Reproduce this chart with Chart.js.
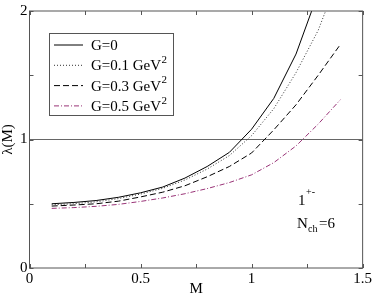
<!DOCTYPE html>
<html>
<head>
<meta charset="utf-8">
<script src="https://cdn.jsdelivr.net/npm/chart.js@4/dist/chart.umd.min.js"></script>
<style>
  html, body { margin: 0; padding: 0; background: #fff; }
  #wrap { width: 374px; height: 297px; }
</style>
</head>
<body>
<div id="wrap"><canvas id="lambdaChart"></canvas></div>
<script>
const masses = [0.1, 0.2, 0.3, 0.4, 0.5, 0.6, 0.7, 0.8, 0.9, 1.0, 1.1, 1.2, 1.3, 1.4];
const lambdaG0 = [0.50, 0.51, 0.525, 0.55, 0.585, 0.63, 0.70, 0.79, 0.90, 1.08, 1.32, 1.665, 2.14];
const lambdaG01 = [0.492, 0.50, 0.515, 0.54, 0.575, 0.62, 0.685, 0.77, 0.875, 1.03, 1.24, 1.52, 1.85, 2.3];
const lambdaG03 = [0.482, 0.49, 0.50, 0.52, 0.553, 0.59, 0.64, 0.71, 0.79, 0.895, 1.075, 1.27, 1.50, 1.74];
const lambdaG05 = [0.464, 0.47, 0.48, 0.495, 0.518, 0.545, 0.578, 0.618, 0.665, 0.725, 0.82, 0.95, 1.12, 1.31];
const seriesLabels = ["G=0", "G=0.1 GeV²", "G=0.3 GeV²", "G=0.5 GeV²"];
const xTicks = [0, 0.5, 1, 1.5];
const yTicks = [0, 1, 2];

const serif = "'Liberation Serif', 'DejaVu Serif', serif";
const frameColor = "#555";

function toPoints(values) {
    return values.map((v, i) => ({ x: masses[i], y: v }));
}

// box, inner ticks, legend and the 1+- / N_ch=6 note
const decorations = {
    id: "decorations",
    afterDatasetsDraw(chart) {
        const { ctx, chartArea: a, scales } = chart;
        ctx.save();
        ctx.strokeStyle = frameColor;
        ctx.lineWidth = 1;
        ctx.setLineDash([]);
        ctx.strokeRect(a.left, a.top, a.right - a.left, a.bottom - a.top);

        ctx.beginPath();
        scales.x.ticks.forEach((t) => {
            const px = Math.round(scales.x.getPixelForValue(t.value)) + 0.5;
            ctx.moveTo(px, a.bottom); ctx.lineTo(px, a.bottom - 4);
            ctx.moveTo(px, a.top); ctx.lineTo(px, a.top + 4);
        });
        scales.y.ticks.forEach((t) => {
            const py = Math.round(scales.y.getPixelForValue(t.value)) + 0.5;
            ctx.moveTo(a.left, py); ctx.lineTo(a.left + 4, py);
            ctx.moveTo(a.right, py); ctx.lineTo(a.right - 4, py);
        });
        ctx.stroke();

        // legend box
        const lx = 49.5, ly = 33.5, lw = 124, lh = 82;
        ctx.fillStyle = "#fff";
        ctx.fillRect(lx, ly, lw, lh);
        ctx.strokeRect(lx, ly, lw, lh);
        ctx.textBaseline = "middle";
        chart.data.datasets.forEach((ds, i) => {
            const y = 45 + i * 20.3;
            ctx.strokeStyle = ds.borderColor;
            ctx.lineWidth = 1;
            ctx.setLineDash(ds.borderDash || []);
            ctx.beginPath();
            ctx.moveTo(54, y);
            ctx.lineTo(83, y);
            ctx.stroke();
            ctx.fillStyle = "#000";
            const parts = ds.label.split("²");
            ctx.font = "15px " + serif;
            ctx.fillText(parts[0], 91, y + 1);
            if (parts.length > 1) {
                const w = ctx.measureText(parts[0]).width;
                ctx.font = "11px " + serif;
                ctx.fillText("2", 91 + w + 0.5, y - 5);
            }
        });
        ctx.setLineDash([]);

        // annotation
        ctx.fillStyle = "#000";
        ctx.textBaseline = "alphabetic";
        ctx.font = "15px " + serif;
        ctx.fillText("1", 298, 205);
        ctx.font = "10px " + serif;
        ctx.fillText("+-", 306, 195);
        ctx.font = "15px " + serif;
        ctx.fillText("N", 297, 228);
        ctx.font = "10px " + serif;
        ctx.fillText("ch", 308, 232);
        ctx.font = "15px " + serif;
        ctx.fillText("=6", 319, 228);
        ctx.restore();
    },
};

function renderChart() {
    const ctx = document.getElementById("lambdaChart").getContext("2d");

    new Chart(ctx, {
        type: "line",
        data: {
            datasets: [
                {
                    label: seriesLabels[0],
                    data: toPoints(lambdaG0),
                    borderColor: "#000",
                    borderWidth: 1,
                },
                {
                    label: seriesLabels[1],
                    data: toPoints(lambdaG01),
                    borderColor: "#333",
                    borderWidth: 1,
                    borderDash: [1, 2],
                },
                {
                    label: seriesLabels[2],
                    data: toPoints(lambdaG03),
                    borderColor: "#000",
                    borderWidth: 1,
                    borderDash: [6, 3],
                },
                {
                    label: seriesLabels[3],
                    data: toPoints(lambdaG05),
                    borderColor: "#993377",
                    borderWidth: 1,
                    borderDash: [5, 2, 1, 2],
                },
            ],
        },
        options: {
            responsive: true,
            maintainAspectRatio: false,
            animation: false,
            layout: { padding: { top: 6, right: 10, left: 0, bottom: 0 } },
            elements: { point: { radius: 0 }, line: { tension: 0 } },
            scales: {
                x: {
                    type: "linear",
                    min: 0,
                    max: 1.5,
                    afterFit: (scale) => { scale.height = 29; },
                    ticks: {
                        stepSize: 0.25,
                        padding: 2,
                        color: "#000",
                        font: { family: serif, size: 15 },
                        callback: (v) => (xTicks.includes(v) ? String(v) : ""),
                        maxRotation: 0,
                        autoSkip: false,
                    },
                    grid: { display: false, drawTicks: false },
                    border: { display: false },
                    title: {
                        display: true,
                        text: "M",
                        color: "#000",
                        padding: 0,
                        font: { family: serif, size: 15, lineHeight: 1 },
                    },
                },
                y: {
                    min: 0,
                    max: 2,
                    afterFit: (scale) => { scale.width = 29.5; },
                    ticks: {
                        stepSize: 0.5,
                        padding: 2,
                        color: "#000",
                        font: { family: serif, size: 15 },
                        callback: (v) => (yTicks.includes(v) ? String(v) : ""),
                        autoSkip: false,
                    },
                    grid: {
                        drawTicks: false,
                        lineWidth: 1,
                        color: (c) => (c.tick && c.tick.value === 1 ? "#666" : "rgba(0,0,0,0)"),
                    },
                    border: { display: false },
                    title: {
                        display: true,
                        text: "λ(M)",
                        color: "#000",
                        padding: 0,
                        font: { family: serif, size: 15, lineHeight: 1.1 },
                    },
                },
            },
            plugins: {
                legend: { display: false },
                tooltip: { enabled: false },
            },
        },
        plugins: [decorations],
    });
}

renderChart();
</script>
</body>
</html>
